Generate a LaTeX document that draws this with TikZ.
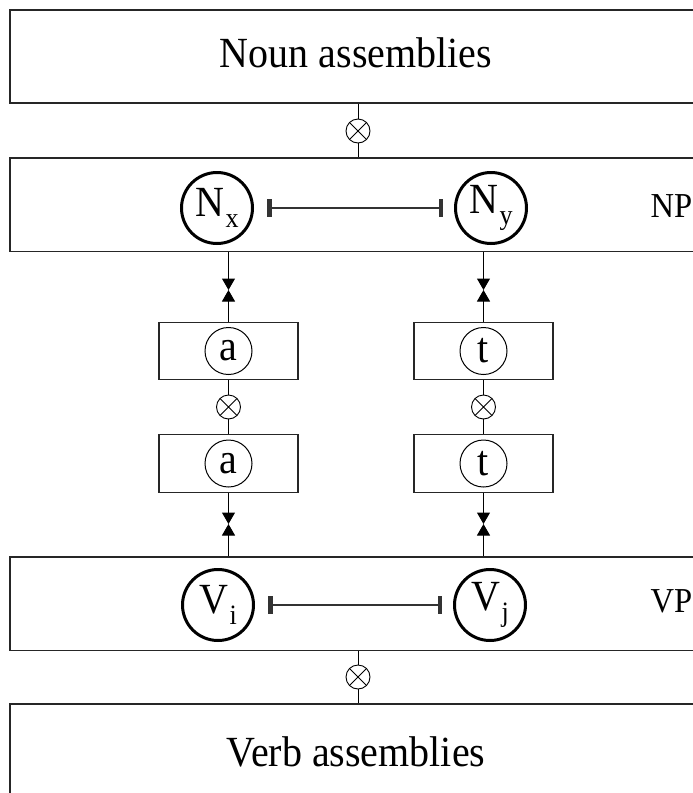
\documentclass[tikz,border=0pt]{standalone}
\usepackage{fontspec}
\setmainfont{Liberation Serif}
\usetikzlibrary{arrows.meta}
\newcommand{\subsc}[1]{\kern1.5pt\raisebox{-11pt}{\fontsize{28}{28}\selectfont #1}}
\newcommand{\narrow}[1]{\scalebox{0.93}[1]{#1}}
\begin{document}
\begin{tikzpicture}[x=1pt,y=-1pt,
  box/.style={draw=black!85, line width=1.3pt, rectangle, inner sep=0pt, minimum width=692pt},
  neur/.style={draw, circle, line width=3pt, minimum size=71pt, inner sep=0pt, font=\fontsize{43}{45}\selectfont},
  smallc/.style={draw, circle, line width=1pt, minimum size=47pt, inner sep=0pt, font=\fontsize{43}{45}\selectfont},
  otimes/.style={draw, circle, line width=0.9pt, minimum size=24pt, inner sep=0pt,
    path picture={\draw[line width=0.9pt] (path picture bounding box.north west) -- (path picture bounding box.south east)
      (path picture bounding box.north east) -- (path picture bounding box.south west);}},
  abox/.style={draw=black!85, line width=1.1pt, rectangle, inner sep=0pt, minimum width=139pt, minimum height=57.5pt},
  conn/.style={line width=1pt},
  meet/.style={conn, -{Triangle[length=11.5pt,width=13pt]}},
  inh/.style={line width=1.3pt, draw=black!80, {Rectangle[length=4.5pt,width=18pt]}-{Rectangle[length=4.5pt,width=18pt]}},
  big/.style={font=\fontsize{43}{48}\selectfont},
  side/.style={font=\fontsize{35}{40}\selectfont}]
\useasboundingbox (0,0) rectangle (693,793);
\clip (0,0) rectangle (693,793);

% big boxes
\node[box, minimum height=93pt] (noun) at (356,56.5) {};
\node[big, anchor=base] (nountext) at (356,67) {\narrow{Noun assemblies}};
\node[box, minimum height=93.5pt] (np) at (356,204.75) {};
\node[side, anchor=base west] (nplab) at (647,217) {\narrow{NP}};
\node[box, minimum height=93.5pt] (vp) at (356,603.75) {};
\node[side, anchor=base west] (vplab) at (647,612) {\narrow{VP}};
\node[box, minimum height=110pt] (verb) at (356,759) {};
\node[big, anchor=base] (verbtext) at (356,766) {\narrow{Verb assemblies}};

% neurons
\node[neur] (Nx) at (217,208) {\narrow{N\subsc{x}}};
\node[neur] (Ny) at (491,208) {\narrow{N\subsc{y}}};
\node[neur] (Vi) at (218,605) {\narrow{V\subsc{i}}};
\node[neur] (Vj) at (490,605) {\narrow{V\subsc{j}}};

% small boxes
\node[abox] (a1) at (228.5,351) {};
\node[smallc] (ca1) at (228.5,351) {\narrow{a}};
\node[abox] (a2) at (228.5,463.5) {};
\node[smallc] (ca2) at (228.5,463.5) {\narrow{a}};
\node[abox] (t1) at (483.5,351) {};
\node[smallc] (ct1) at (483.5,351) {\narrow{t}};
\node[abox] (t2) at (483.5,463.5) {};
\node[smallc] (ct2) at (483.5,463.5) {\narrow{t}};

% otimes
\node[otimes] (o1) at (358,131) {};
\node[otimes] (o4) at (358,677) {};
\node[otimes] (oa) at (228.5,407) {};
\node[otimes] (ot) at (483.5,407) {};

% junctions
\coordinate (ja1) at (228.5,290);
\coordinate (jt1) at (483.5,290);
\coordinate (ja2) at (228.5,524);
\coordinate (jt2) at (483.5,524);

% connectors
\draw[conn] (o1 |- noun.south) -- (o1) -- (o1 |- np.north);
\draw[conn] (o4 |- vp.south) -- (o4) -- (o4 |- verb.north);
\draw[conn] (a1) -- (oa) -- (a2);
\draw[conn] (t1) -- (ot) -- (t2);

\draw[meet] (a1 |- np.south) -- (ja1);
\draw[meet] (a1.north) -- (ja1);
\draw[meet] (t1 |- np.south) -- (jt1);
\draw[meet] (t1.north) -- (jt1);
\draw[meet] (a2.south) -- (ja2);
\draw[meet] (a2 |- vp.north) -- (ja2);
\draw[meet] (t2.south) -- (jt2);
\draw[meet] (t2 |- vp.north) -- (jt2);

\draw[inh, shorten <=13pt, shorten >=11pt] (Nx) -- (Ny);
\draw[inh, shorten <=13pt, shorten >=11pt] (Vi) -- (Vj);
\end{tikzpicture}
\end{document}
